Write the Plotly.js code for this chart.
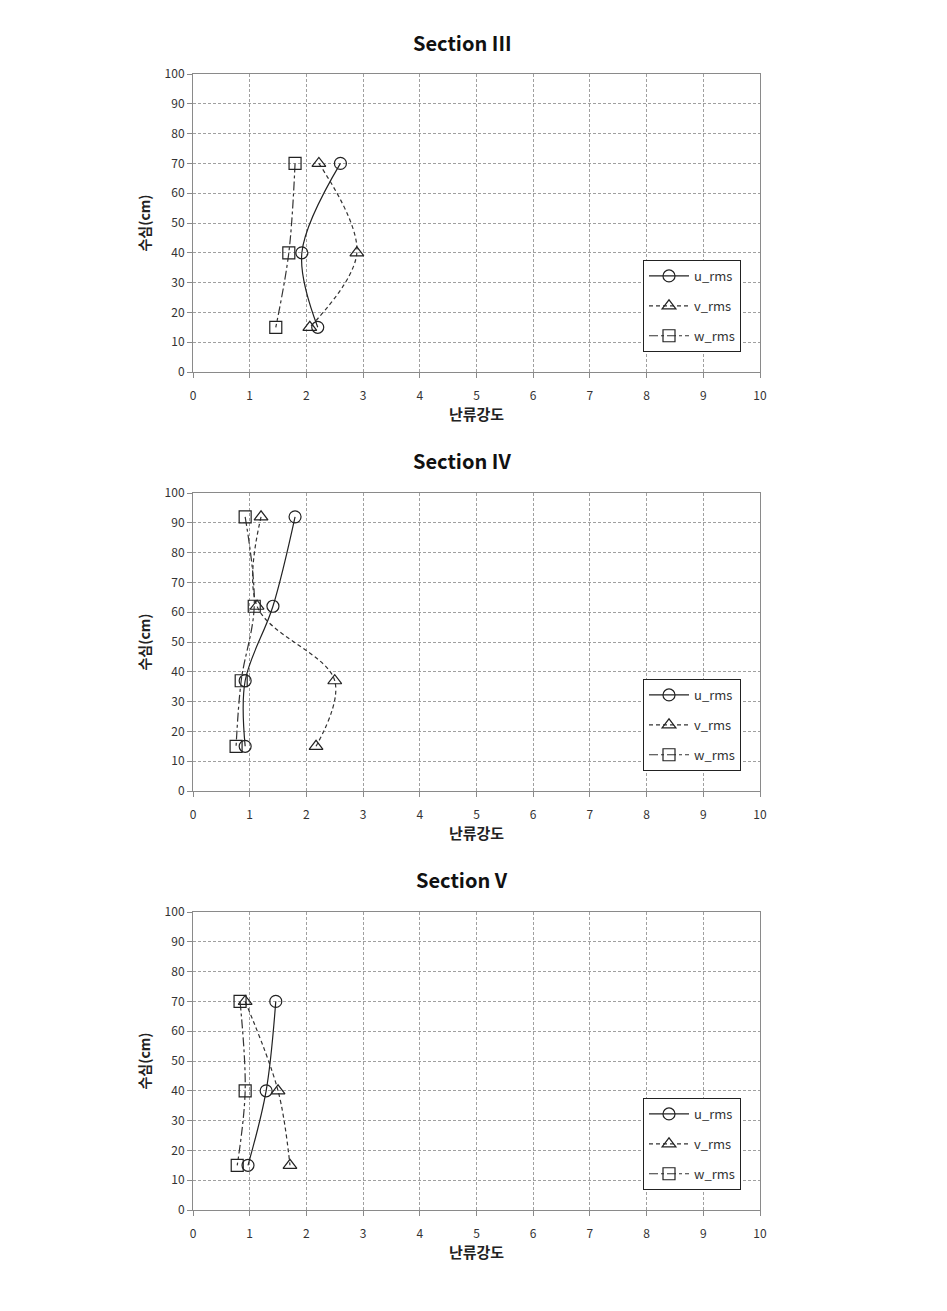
<!DOCTYPE html>
<html>
<head>
<meta charset="utf-8">
<script src="https://cdn.plot.ly/plotly-3.0.1.min.js"></script>
<style>html,body{margin:0;padding:0;background:#fff;}</style>
</head>
<body>
<div id="chart" style="width:947px;height:1311px;"></div>
<script>
// Section titles
const sectionTitles = ["Section III", "Section IV", "Section V"];
const seriesNames = ["u_rms", "v_rms", "w_rms"];

// Section III
const depth3 = [70, 40, 15];
const u3 = [2.6, 1.92, 2.2];
const v3 = [2.22, 2.89, 2.06];
const w3 = [1.8, 1.69, 1.46];

// Section IV
const depth4 = [92, 62, 37, 15];
const u4 = [1.8, 1.41, 0.92, 0.92];
const v4 = [1.2, 1.13, 2.5, 2.17];
const w4 = [0.92, 1.08, 0.85, 0.76];

// Section V
const depth5 = [70, 40, 15];
const u5 = [1.46, 1.29, 0.97];
const v5 = [0.92, 1.5, 1.71];
const w5 = [0.83, 0.92, 0.78];

const xTickVals = [0,1,2,3,4,5,6,7,8,9,10];
const yTickVals = [0,10,20,30,40,50,60,70,80,90,100];
const xTitle = "난류강도";
const yTitle = "수심(cm)";

const sections = [
  {depth: depth3, series: [u3, v3, w3]},
  {depth: depth4, series: [u4, v4, w4]},
  {depth: depth5, series: [u5, v5, w5]}
];

const styles = [
  {dash: "solid", symbol: "circle-open", color: "#222"},
  {dash: "4px,3px", symbol: "triangle-up-open", color: "#333"},
  {dash: "dashdot", symbol: "square-open", color: "#333"}
];

const FONT = "'Noto Sans CJK KR', 'Noto Sans', sans-serif";
const W = 947, H = 1311;
const plotLeft = 193, plotRight = 760;
const tops = [74, 493, 912];
const bottoms = [372, 791, 1210];

const traces = [];
const layout = {
  width: W, height: H,
  margin: {l: 0, r: 0, t: 0, b: 0},
  paper_bgcolor: "#fff",
  plot_bgcolor: "#fff",
  showlegend: true,
  font: {family: FONT, size: 12, color: "#333"},
  annotations: []
};

sections.forEach((sec, i) => {
  const k = i === 0 ? "" : String(i + 1);
  const legKey = i === 0 ? "legend" : "legend" + (i + 1);
  sec.series.forEach((vals, j) => {
    const st = styles[j];
    traces.push({
      type: "scatter",
      mode: "lines+markers",
      x: vals,
      y: sec.depth,
      name: seriesNames[j],
      xaxis: "x" + k,
      yaxis: "y" + k,
      legend: legKey,
      legendgroup: "g" + i + "_" + j,
      line: {shape: "spline", smoothing: 1, dash: st.dash, color: st.color, width: 1.2},
      marker: {symbol: st.symbol, size: 12, color: "#222", line: {width: 1.2, color: "#222"}}
    });
  });
  const yd = [1 - bottoms[i] / H, 1 - tops[i] / H];
  layout["xaxis" + k] = {
    domain: [plotLeft / W, plotRight / W],
    anchor: "y" + k,
    range: [0, 10],
    tickvals: xTickVals,
    showgrid: true, gridcolor: "#a0a0a0", griddash: "3px,2px", gridwidth: 1,
    showline: true, mirror: true, linecolor: "#8a8a8a", linewidth: 1,
    ticks: "outside", ticklen: 5, tickcolor: "#8a8a8a",
    ticklabelstandoff: 8,
    zeroline: false,
    tickfont: {family: FONT, size: 12, color: "#333"},
    title: {text: xTitle, font: {family: FONT, size: 15, color: "#222", weight: "bold"}, standoff: 0}
  };
  layout["yaxis" + k] = {
    domain: yd,
    anchor: "x" + k,
    range: [0, 100],
    tickvals: yTickVals,
    showgrid: true, gridcolor: "#a0a0a0", griddash: "3px,2px", gridwidth: 1,
    showline: true, mirror: true, linecolor: "#8a8a8a", linewidth: 1,
    ticks: "outside", ticklen: 5, tickcolor: "#8a8a8a",
    zeroline: false,
    tickfont: {family: FONT, size: 12, color: "#333"},
    title: {text: yTitle, font: {family: FONT, size: 14, color: "#222", weight: "bold"}, standoff: 10}
  };
  layout[legKey] = {
    x: 643 / W, y: 1 - (tops[i] + 186) / H,
    xanchor: "left", yanchor: "top",
    bgcolor: "#fff", bordercolor: "#222", borderwidth: 1,
    font: {family: FONT, size: 13, color: "#333"},
    traceorder: "grouped", tracegroupgap: 10,
    itemwidth: 40
  };
  layout.annotations.push({
    text: "<b>" + sectionTitles[i] + "</b>",
    xref: "paper", yref: "paper",
    x: 462 / W, y: 1 - (tops[i] - 32) / H,
    xanchor: "center", yanchor: "middle",
    showarrow: false,
    font: {family: FONT, size: 20, color: "#111"}
  });
});

Plotly.newPlot("chart", traces, layout, {displayModeBar: false, responsive: false});
</script>
</body>
</html>
